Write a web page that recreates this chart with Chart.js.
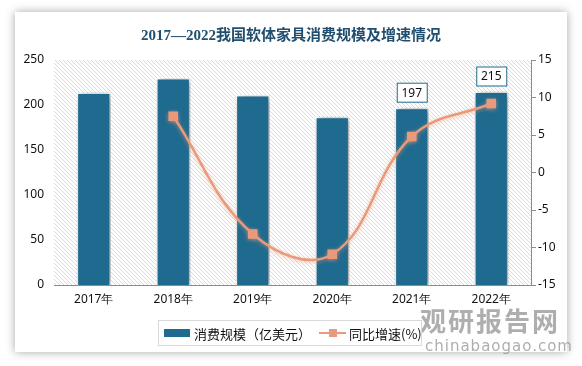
<!DOCTYPE html>
<html>
<head>
<meta charset="utf-8">
<script src="https://cdn.jsdelivr.net/npm/chart.js@4"></script>
<style>
	body { margin: 0; width: 582px; height: 366px; background: #fff; position: relative; overflow: hidden; font-family: "Noto Sans", "Noto Sans CJK SC", sans-serif; }
	.card { position: absolute; left: 15px; top: 12px; width: 552px; height: 340px; background: #fff; box-shadow: 0 0 9px rgba(0,0,0,0.35); }
	.title { position: absolute; left: 0; top: 11px; width: 552px; text-align: center; font: bold 15px "Liberation Serif", "Noto Sans CJK SC", serif; color: #1f4e6e; }
	canvas { position: absolute; left: 0; top: 0; }
	.mark { position: absolute; color: #9a9a9a; opacity: 0.8; white-space: nowrap; }
	.legend { position: absolute; left: 143px; top: 308px; width: 262px; height: 24px; border: 1px solid #d9d9d9; font: 13px "Noto Sans CJK SC", sans-serif; color: #111; white-space: nowrap; }
	.legend span { position: absolute; top: 3px; }
</style>
</head>
<body>
<div class="card">
	<canvas id="softFurnitureChart" width="552" height="340"></canvas>
	<div class="title">2017—2022我国软体家具消费规模及增速情况</div>
	<div class="mark" style="left:405px;top:289px;font:bold 26px 'Noto Sans CJK SC';letter-spacing:2px;">观研报告网</div>
	<div class="mark" style="left:410px;top:325px;font:15px 'DejaVu Sans';letter-spacing:1px;">chinabaogao.com</div>
	<div class="legend">
		<div style="position:absolute;left:5px;top:8px;width:26px;height:8px;background:#1e6b8f;"></div>
		<span style="left:35px;">消费规模（亿美元）</span>
		<div style="position:absolute;left:160px;top:11px;width:27px;height:2px;background:#ea9a7c;"></div>
		<div style="position:absolute;left:170px;top:8px;width:8px;height:8px;background:#ea9a7c;"></div>
		<span style="left:190px;">同比增速(%)</span>
	</div>
</div>
<script>
const years = ['2017年', '2018年', '2019年', '2020年', '2021年', '2022年'];
const scaleValues = [214, 230, 211, 187, 197, 215];
const growthRates = [null, 7.5, -8.2, -10.9, 4.8, 9.2];
const labeledIndexes = [4, 5];

const barColor = '#1e6b8f';
const lineColor = '#ea9a7c';

// diagonal hatch for the plot background
const hatch = document.createElement('canvas');
hatch.width = 4;
hatch.height = 4;
const hctx = hatch.getContext('2d');
hctx.strokeStyle = '#dadada';
hctx.lineWidth = 1;
hctx.beginPath();
hctx.moveTo(-1, -1); hctx.lineTo(5, 5);
hctx.moveTo(-1, 3); hctx.lineTo(1, 5);
hctx.moveTo(3, -1); hctx.lineTo(5, 1);
hctx.stroke();

const plotBackground = {
	id: 'plotBackground',
	beforeDraw(chart) {
		const { ctx, chartArea: a } = chart;
		ctx.save();
		ctx.fillStyle = ctx.createPattern(hatch, 'repeat');
		ctx.fillRect(a.left, a.top, a.right - a.left, a.bottom - a.top);
		ctx.restore();
	}
};

const shadows = {
	id: 'shadows',
	beforeDatasetDraw(chart, args) {
		const ctx = chart.ctx;
		ctx.save();
		if (args.index === 1) {
			ctx.shadowColor = 'rgba(0,0,0,0.5)';
			ctx.shadowBlur = 7;
			ctx.shadowOffsetX = 2;
			ctx.shadowOffsetY = 1;
		} else {
			ctx.shadowColor = 'rgba(234,154,124,0.6)';
			ctx.shadowBlur = 4;
			ctx.shadowOffsetY = 1;
		}
	},
	afterDatasetDraw(chart) {
		chart.ctx.restore();
	}
};

const valueBoxes = {
	id: 'valueBoxes',
	afterDatasetsDraw(chart) {
		const ctx = chart.ctx;
		const meta = chart.getDatasetMeta(1);
		ctx.save();
		ctx.font = '12px "Noto Sans"';
		ctx.textAlign = 'center';
		ctx.textBaseline = 'middle';
		labeledIndexes.forEach(i => {
			const bar = meta.data[i];
			const w = 30, h = 19;
			const x = bar.x - w / 2, y = bar.y - 6 - h;
			ctx.fillStyle = '#fff';
			ctx.fillRect(x, y, w, h);
			ctx.strokeStyle = barColor;
			ctx.lineWidth = 1;
			ctx.strokeRect(x + 0.5, y + 0.5, w, h);
			ctx.fillStyle = '#111';
			ctx.fillText(String(scaleValues[i]), bar.x, y + h / 2 + 1);
		});
		ctx.restore();
	}
};

new Chart(document.getElementById('softFurnitureChart'), {
	data: {
		labels: years,
		datasets: [{
			type: 'line',
			label: '同比增速(%)',
			data: growthRates,
			yAxisID: 'y1',
			borderColor: lineColor,
			backgroundColor: lineColor,
			borderWidth: 2.5,
			tension: 0.4,
			pointStyle: 'rect',
			pointRadius: 5,
			pointBackgroundColor: lineColor,
			pointBorderColor: lineColor,
			order: 0
		}, {
			type: 'bar',
			label: '消费规模（亿美元）',
			data: scaleValues,
			yAxisID: 'y',
			backgroundColor: barColor,
			borderColor: '#ffffff',
			borderWidth: 1.5,
			barPercentage: 0.86,
			categoryPercentage: 0.5,
			order: 1
		}]
	},
	options: {
		responsive: false,
		animation: false,
		layout: { padding: { top: 48, left: 0, right: 0, bottom: 0 } },
		plugins: {
			legend: { display: false },
			tooltip: { enabled: false }
		},
		scales: {
			x: {
				grid: { display: false, drawTicks: false },
				border: { display: true, color: '#8c8c8c', width: 1 },
				ticks: { color: '#111', font: { family: 'Noto Sans', size: 12 }, padding: 7 },
				afterFit(axis) { axis.height = 67; }
			},
			y: {
				position: 'left',
				min: 0,
				max: 250,
				grid: { display: false, drawTicks: false },
				border: { display: false },
				ticks: { stepSize: 50, color: '#111', font: { family: 'Noto Sans', size: 12 }, padding: 10 },
				afterFit(axis) { axis.width = 39; }
			},
			y1: {
				position: 'right',
				min: -15,
				max: 15,
				grid: { display: true, drawOnChartArea: false, drawTicks: true, tickLength: 5, color: '#8c8c8c' },
				border: { display: true, color: '#8c8c8c', width: 1 },
				ticks: { stepSize: 5, color: '#111', font: { family: 'Noto Sans', size: 12 }, padding: 2 },
				afterFit(axis) { axis.width = 36; }
			}
		}
	},
	plugins: [plotBackground, shadows, valueBoxes]
});
</script>
</body>
</html>
